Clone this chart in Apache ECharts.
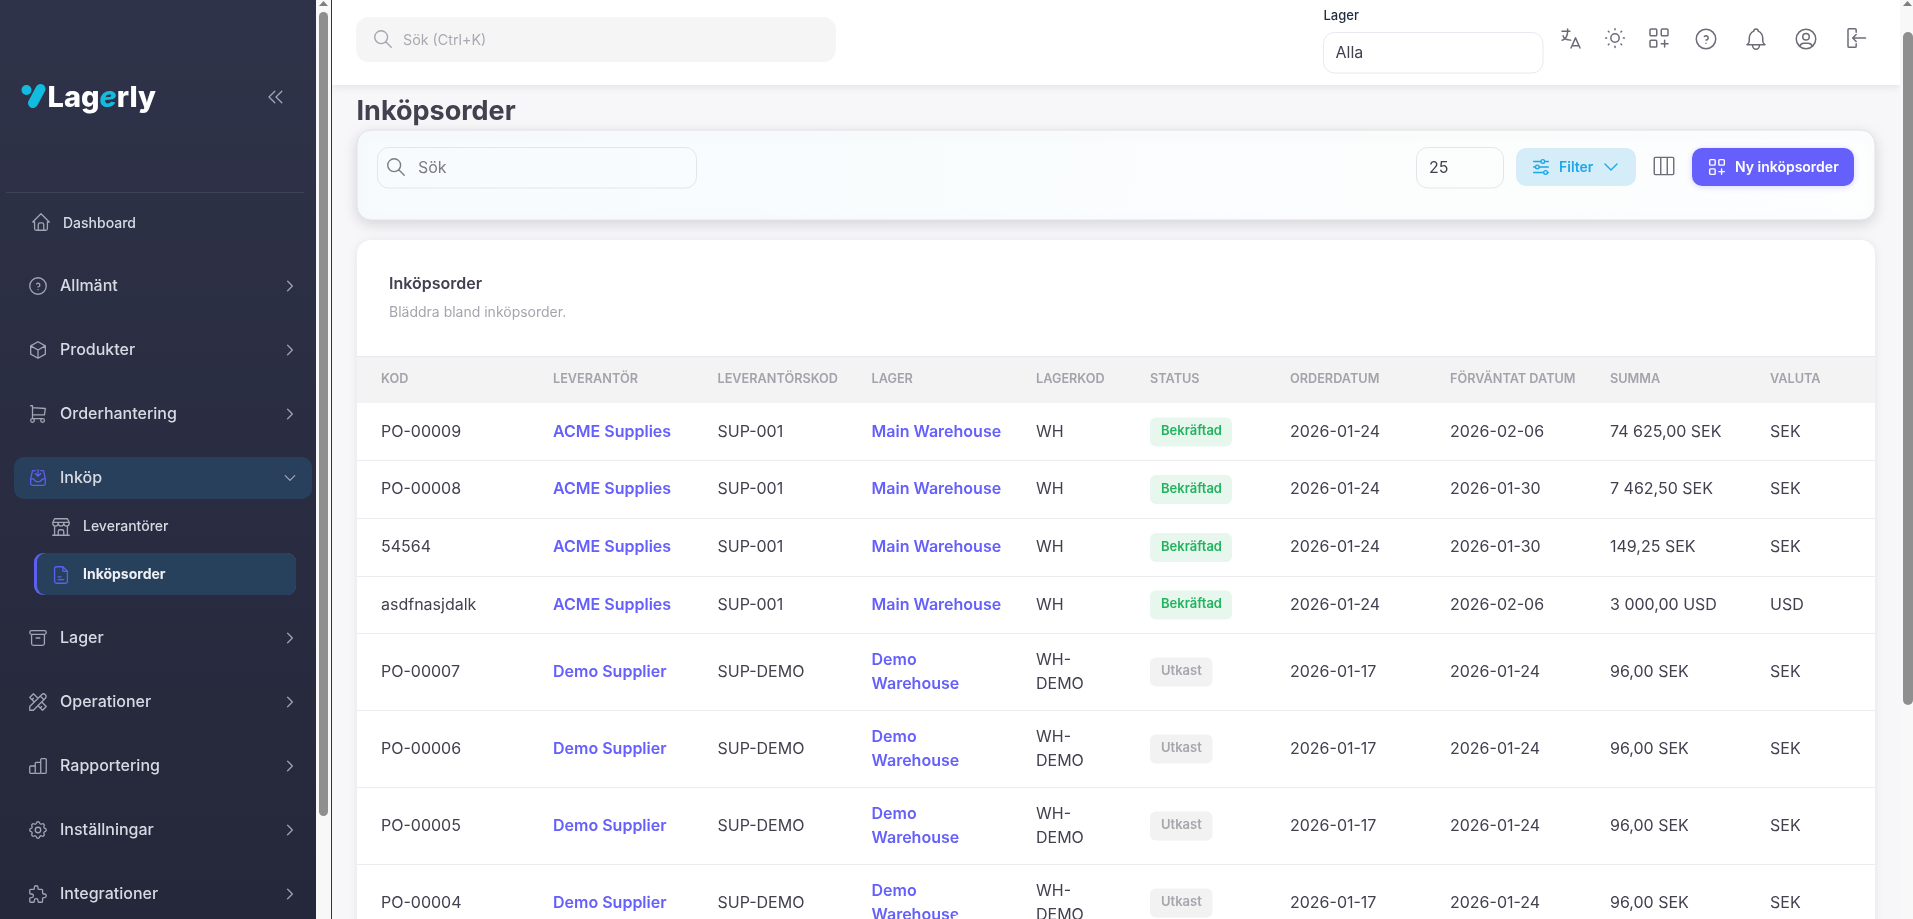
<!DOCTYPE html>
<html>
<head>
<meta charset="utf-8">
<title>Inköpsorder</title>
<script src="https://cdn.jsdelivr.net/npm/echarts@6/dist/echarts.min.js"></script>
<style>
html, body { margin: 0; padding: 0; overflow: hidden; background: #f7f7f9; }
#chart { width: 1913px; height: 919px; }
</style>
</head>
<body>
<div id="chart"></div>
<script>
// table data
var headers = ["KOD", "LEVERANTÖR", "LEVERANTÖRSKOD", "LAGER", "LAGERKOD", "STATUS", "ORDERDATUM", "FÖRVÄNTAT DATUM", "SUMMA", "VALUTA"];
var codes = ["PO-00009", "PO-00008", "54564", "asdfnasjdalk", "PO-00007", "PO-00006", "PO-00005", "PO-00004"];
var suppliers = ["ACME Supplies", "ACME Supplies", "ACME Supplies", "ACME Supplies", "Demo Supplier", "Demo Supplier", "Demo Supplier", "Demo Supplier"];
var supplierCodes = ["SUP-001", "SUP-001", "SUP-001", "SUP-001", "SUP-DEMO", "SUP-DEMO", "SUP-DEMO", "SUP-DEMO"];
var warehouses = ["Main Warehouse", "Main Warehouse", "Main Warehouse", "Main Warehouse", "Demo\nWarehouse", "Demo\nWarehouse", "Demo\nWarehouse", "Demo\nWarehouse"];
var warehouseCodes = ["WH", "WH", "WH", "WH", "WH-\nDEMO", "WH-\nDEMO", "WH-\nDEMO", "WH-\nDEMO"];
var statuses = ["Bekräftad", "Bekräftad", "Bekräftad", "Bekräftad", "Utkast", "Utkast", "Utkast", "Utkast"];
var orderDates = ["2026-01-24", "2026-01-24", "2026-01-24", "2026-01-24", "2026-01-17", "2026-01-17", "2026-01-17", "2026-01-17"];
var expectedDates = ["2026-02-06", "2026-01-30", "2026-01-30", "2026-02-06", "2026-01-24", "2026-01-24", "2026-01-24", "2026-01-24"];
var totals = ["74 625,00 SEK", "7 462,50 SEK", "149,25 SEK", "3 000,00 USD", "96,00 SEK", "96,00 SEK", "96,00 SEK", "96,00 SEK"];
var currencies = ["SEK", "SEK", "SEK", "USD", "SEK", "SEK", "SEK", "SEK"];

// sidebar menu
var menuLabels = ["Allmänt", "Produkter", "Orderhantering", "Inköp", "Lager", "Operationer", "Rapportering", "Inställningar", "Integrationer"];
var menuIcons = ["help", "box", "cart", "inbox", "archive", "tools", "bars", "settings", "puzzle"];

// layout
var colX = [381, 553, 717.5, 871.5, 1036, 1150, 1290, 1450, 1610, 1770];
var rowEdges = [403, 460, 518, 576, 633, 710, 787, 864, 941];
var menuY = [286, 350, 414, 478, 638, 702, 766, 830, 894];
var font = "Inter, 'Noto Sans', sans-serif";

var paths = {
    home: "M5 12l-2 0l9 -9l9 9l-2 0M5 12v7a2 2 0 0 0 2 2h10a2 2 0 0 0 2 -2v-7M9 21v-6a2 2 0 0 1 2 -2h2a2 2 0 0 1 2 2v6",
    help: "M12 12m-9 0a9 9 0 1 0 18 0a9 9 0 1 0 -18 0M12 16v.01M12 13a2 2 0 0 0 .914 -3.782a1.98 1.98 0 0 0 -2.414 .483",
    box: "M12 3l8 4.5l0 9l-8 4.5l-8 -4.5l0 -9l8 -4.5M12 12l8 -4.5M12 12l0 9M12 12l-8 -4.5",
    cart: "M6 19m-2 0a2 2 0 1 0 4 0a2 2 0 1 0 -4 0M17 19m-2 0a2 2 0 1 0 4 0a2 2 0 1 0 -4 0M17 17h-11v-14h-2M6 5l14 1l-1 7h-13",
    inbox: "M4 13h3l3 3h4l3 -3h3M4 13l2 -9h3M20 13l-2 -9h-3M12 3v7M9 7l3 3l3 -3M4 13v5a2 2 0 0 0 2 2h12a2 2 0 0 0 2 -2v-5",
    store: "M3 21l18 0M3 7v1a3 3 0 0 0 6 0v-1m0 1a3 3 0 0 0 6 0v-1m0 1a3 3 0 0 0 6 0v-1h-18l2 -4h14l2 4M5 21l0 -10.15M19 21l0 -10.15M9 21v-4a2 2 0 0 1 2 -2h2a2 2 0 0 1 2 2v4",
    file: "M14 3v4a1 1 0 0 0 1 1h4M17 21h-10a2 2 0 0 1 -2 -2v-14a2 2 0 0 1 2 -2h7l5 5v11a2 2 0 0 1 -2 2M9 17h6M9 14h3",
    archive: "M3 4m0 2a2 2 0 0 1 2 -2h14a2 2 0 0 1 2 2v0a2 2 0 0 1 -2 2h-14a2 2 0 0 1 -2 -2zM5 8v10a2 2 0 0 0 2 2h10a2 2 0 0 0 2 -2v-10M10 12l4 0",
    tools: "M3 21h4l13 -13a1.5 1.5 0 0 0 -4 -4l-13 13v4M14.5 5.5l4 4M12 8l-5 -5l-4 4l5 5M7 8l-1.5 1.5M16 12l5 5l-4 4l-5 -5M16 17l-1.5 1.5",
    bars: "M3 12m0 1a1 1 0 0 1 1 -1h4a1 1 0 0 1 1 1v6a1 1 0 0 1 -1 1h-4a1 1 0 0 1 -1 -1zM9 8m0 1a1 1 0 0 1 1 -1h4a1 1 0 0 1 1 1v10a1 1 0 0 1 -1 1h-4a1 1 0 0 1 -1 -1zM15 4m0 1a1 1 0 0 1 1 -1h4a1 1 0 0 1 1 1v14a1 1 0 0 1 -1 1h-4a1 1 0 0 1 -1 -1z",
    settings: "M10.325 4.317c.426 -1.756 2.924 -1.756 3.35 0a1.724 1.724 0 0 0 2.573 1.066c1.543 -.94 3.31 .826 2.37 2.37a1.724 1.724 0 0 0 1.065 2.572c1.756 .426 1.756 2.924 0 3.35a1.724 1.724 0 0 0 -1.066 2.573c.94 1.543 -.826 3.31 -2.37 2.37a1.724 1.724 0 0 0 -2.572 1.065c-.426 1.756 -2.924 1.756 -3.35 0a1.724 1.724 0 0 0 -2.573 -1.066c-1.543 .94 -3.31 -.826 -2.37 -2.37a1.724 1.724 0 0 0 -1.065 -2.572c-1.756 -.426 -1.756 -2.924 0 -3.35a1.724 1.724 0 0 0 1.066 -2.573c-.94 -1.543 .826 -3.31 2.37 -2.37c1 .608 2.296 .07 2.572 -1.065zM9 12a3 3 0 1 0 6 0a3 3 0 0 0 -6 0",
    puzzle: "M4 7h3a1 1 0 0 0 1 -1v-1a2 2 0 0 1 4 0v1a1 1 0 0 0 1 1h3a1 1 0 0 1 1 1v3a1 1 0 0 0 1 1h1a2 2 0 0 1 0 4h-1a1 1 0 0 0 -1 1v3a1 1 0 0 1 -1 1h-3a1 1 0 0 1 -1 -1v-1a2 2 0 0 0 -4 0v1a1 1 0 0 1 -1 1h-3a1 1 0 0 1 -1 -1v-3a1 1 0 0 1 1 -1h1a2 2 0 0 0 0 -4h-1a1 1 0 0 1 -1 -1v-3a1 1 0 0 1 1 -1",
    chevronsLeft: "M11 7l-5 5l5 5M17 7l-5 5l5 5",
    chevronRight: "M9 6l6 6l-6 6",
    chevronDown: "M6 9l6 6l6 -6",
    search: "M10 10m-7 0a7 7 0 1 0 14 0a7 7 0 1 0 -14 0M21 21l-6 -6",
    language: "M4 5h7M9 3v2c0 4.418 -2.239 8 -5 8M5 9c0 2.144 2.952 3.908 6.7 4M12 20l4 -9l4 9M19.1 18h-6.2",
    sun: "M12 12m-4 0a4 4 0 1 0 8 0a4 4 0 1 0 -8 0M3 12h1m8 -9v1m8 8h1m-9 8v1m-6.4 -15.4l.7 .7m12.1 -.7l-.7 .7m0 11.4l.7 .7m-12.1 -.7l-.7 .7",
    apps: "M4 4m0 1a1 1 0 0 1 1 -1h4a1 1 0 0 1 1 1v4a1 1 0 0 1 -1 1h-4a1 1 0 0 1 -1 -1zM14 4m0 1a1 1 0 0 1 1 -1h4a1 1 0 0 1 1 1v4a1 1 0 0 1 -1 1h-4a1 1 0 0 1 -1 -1zM4 14m0 1a1 1 0 0 1 1 -1h4a1 1 0 0 1 1 1v4a1 1 0 0 1 -1 1h-4a1 1 0 0 1 -1 -1zM14 17h6M17 14v6",
    bell: "M10 5a2 2 0 1 1 4 0a7 7 0 0 1 4 6v3a4 4 0 0 0 2 3h-16a4 4 0 0 0 2 -3v-3a7 7 0 0 1 4 -6M9 17v1a3 3 0 0 0 6 0v-1",
    user: "M12 12m-9 0a9 9 0 1 0 18 0a9 9 0 1 0 -18 0M12 10m-3 0a3 3 0 1 0 6 0a3 3 0 1 0 -6 0M6.168 18.849a4 4 0 0 1 3.832 -2.849h4a4 4 0 0 1 3.834 2.855",
    login: "M13 7v-2a1 1 0 0 0 -1 -1h-5a1 1 0 0 0 -1 1v14a1 1 0 0 0 1 1h5a1 1 0 0 0 1 -1v-2M21 12h-11M13 9l-3 3l3 3",
    sliders: "M14 6m-2 0a2 2 0 1 0 4 0a2 2 0 1 0 -4 0M4 6l8 0M16 6l4 0M8 12m-2 0a2 2 0 1 0 4 0a2 2 0 1 0 -4 0M4 12l2 0M10 12l10 0M17 18m-2 0a2 2 0 1 0 4 0a2 2 0 1 0 -4 0M4 18l11 0M19 18l1 0",
    columns: "M3 5a1 1 0 0 1 1 -1h16a1 1 0 0 1 1 1v14a1 1 0 0 1 -1 1h-16a1 1 0 0 1 -1 -1zM9 4v16M15 4v16"
};

var els = [], icons = [];

function rect(x, y, w, h, fill, r, extra) {
    var style = { fill: fill };
    for (var k in (extra || {})) style[k] = extra[k];
    els.push({ type: "rect", shape: { x: x, y: y, width: w, height: h, r: r || 0 }, style: style, silent: true });
}

function text(x, y, str, size, weight, color, lineHeight) {
    els.push({
        type: "text", silent: true, x: x, y: y,
        style: {
            text: str, fill: color, fontFamily: font, fontSize: size, fontWeight: weight,
            align: "left", verticalAlign: "middle", lineHeight: lineHeight || undefined
        }
    });
}

function icon(name, cx, cy, size, color, lw) {
    icons.push({ name: name, cx: cx, cy: cy, size: size, color: color, lw: lw || 1.4 });
}

var sideIcon = "#a3a5b4", sideText = "#d8dae3";

// page and top bar
rect(332, 85, 1568, 834, "#f7f7f9");
rect(332, 0, 1568, 85, "#ffffff", 0, { shadowBlur: 8, shadowColor: "rgba(47,43,61,0.10)", shadowOffsetY: 2 });
rect(356, 17, 480, 45, "#f5f5f6", 13);
icon("search", 383, 39, 22, "#a5a6ae");
text(403, 40.5, "Sök (Ctrl+K)", 14.3, 400, "#a8a9b3");
text(1323.5, 16, "Lager", 13, 500, "#1f2d3d");
rect(1323.5, 32.5, 219.5, 40.5, "#ffffff", 11, { stroke: "#e8e8f0", lineWidth: 1 });
text(1335.5, 53, "Alla", 16, 400, "#444050");
var topIcons = ["language", "sun", "apps", "help", "bell", "user", "login"];
var topIconX = [1571, 1615, 1659, 1706, 1756, 1806, 1855];
var topIconY = [39, 38, 38, 39, 39, 39, 38];
var topIconSize = [27, 25, 27, 26, 27, 26, 28];
topIcons.forEach(function(n, i) {
    icon(n, topIconX[i], topIconY[i], topIconSize[i], "#6d6b77", 1.5);
});

// sidebar
rect(0, 0, 316, 919, { type: "linear", x: 0, y: 0, x2: 0, y2: 1, colorStops: [{ offset: 0, color: "#2f3349" }, { offset: 1, color: "#25273a" }] });
rect(316, 0, 15, 919, "#f8f8f8");
rect(319, 12, 9, 804, "#8f8f8f", 4.5);
els.push({ type: "polygon", silent: true, shape: { points: [[323.5, 1], [319, 6], [328, 6]] }, style: { fill: "#7f7f7f" } });
rect(331, 0, 1, 919, "#2f3349");
rect(1900, 0, 13, 919, "#f8f8f8");
rect(1903, 32, 10, 673, "#8f8f8f", 5);
els.push({ type: "polygon", silent: true, shape: { points: [[1907.5, 1], [1903, 6], [1912, 6]] }, style: { fill: "#7f7f7f" } });
rect(6, 192, 298, 1, "rgba(255,255,255,0.09)");

// logo
els.push({ type: "circle", silent: true, shape: { cx: 26.5, cy: 90, r: 5 }, style: { fill: "#12bcdf" } });
els.push({ type: "line", silent: true, shape: { x1: 40.5, y1: 89, x2: 33, y2: 103 }, style: { stroke: "#12bcdf", lineWidth: 10, lineCap: "round" } });
els.push({
    type: "text", silent: true, x: 47.5, y: 98,
    style: {
        text: "{a|Lag}{b|e}{a|rly}", verticalAlign: "middle", align: "left",
        rich: {
            a: { fill: "#ffffff", fontFamily: font, fontSize: 29, fontWeight: 800 },
            b: { fill: "#12bcdf", fontFamily: font, fontSize: 29, fontWeight: 800, fontStyle: "italic" }
        }
    }
});
icon("chevronsLeft", 276, 97, 28, sideIcon, 1.3);

icon("home", 41, 222, 22, sideIcon, 1.3);
text(63, 224, "Dashboard", 14, 500, sideText);

rect(14, 457, 298, 42, "#28405c", 10);
rect(34, 553, 262, 42, "#5d5fef", 9);
rect(37, 553, 259, 42, "#27405c", 9);
menuLabels.forEach(function(label, i) {
    var active = label === "Inköp";
    icon(menuIcons[i], 38, menuY[i], 22, active ? "#5d5fef" : sideIcon, 1.3);
    text(60, menuY[i] + 0.5, label, 16, 500, sideText);
    icon(active ? "chevronDown" : "chevronRight", 290, menuY[i], 19, sideIcon, 1.2);
});
icon("store", 61, 527, 22, sideIcon, 1.3);
text(83, 527, "Leverantörer", 14, 500, sideText);
icon("file", 61, 575, 22, "#5d5fef", 1.3);
text(83, 575, "Inköpsorder", 14, 700, "#eef0f6");

// heading and filter card
text(356.5, 112, "Inköpsorder", 27, 700, "#444050");
rect(357, 130, 1518, 90, { type: "linear", x: 0, y: 0, x2: 1, y2: 1, colorStops: [{ offset: 0, color: "#f7fbfd" }, { offset: 1, color: "#fdfefe" }] }, 14,
    { stroke: "#e2e2e6", lineWidth: 1, shadowBlur: 14, shadowColor: "rgba(47,43,61,0.16)", shadowOffsetY: 4 });
rect(377.5, 147.5, 319, 40.5, "rgba(255,255,255,0)", 11, { stroke: "#e3e5ea", lineWidth: 1 });
icon("search", 396, 167, 22, "#7a7b85");
text(418, 168, "Sök", 16, 400, "#7a7b85");
rect(1416.5, 147.5, 87, 40.5, "rgba(255,255,255,0)", 11, { stroke: "#e3e5ea", lineWidth: 1 });
text(1429, 168, "25", 16, 400, "#444050");
rect(1516, 148, 120, 38, "#d5ecf9", 10);
icon("sliders", 1541, 167, 22, "#1ea7e8");
text(1559, 167.5, "Filter", 14, 600, "#1ea7e8");
icon("chevronDown", 1611, 167, 24, "#1ea7e8");
icon("columns", 1664, 166, 26, "#6d6b77");
rect(1692, 148, 162, 38, "#6560fb", 10, { shadowBlur: 6, shadowColor: "rgba(101,96,251,0.25)", shadowOffsetY: 1 });
icon("apps", 1717, 167, 22, "#ffffff");
text(1735, 167.5, "Ny inköpsorder", 14, 600, "#ffffff");

// table card
rect(357, 240, 1518, 760, "#ffffff", 14, { shadowBlur: 8, shadowColor: "rgba(47,43,61,0.10)", shadowOffsetY: 1 });
text(389, 284.5, "Inköpsorder", 16, 600, "#444050");
text(389, 313, "Bläddra bland inköpsorder.", 14, 400, "#a5a5ae");
rect(357, 357, 1518, 46, "#f3f3f4");
rect(357, 356, 1518, 1, "#e8e8ee");
headers.forEach(function(h, i) {
    text(colX[i], 379, h, 12.7, 600, "#a3a3ab");
});
var columns = [codes, suppliers, supplierCodes, warehouses, warehouseCodes, null, orderDates, expectedDates, totals, currencies];
var linkCols = { 1: true, 3: true };
codes.forEach(function(c, r) {
    var top = rowEdges[r], bottom = rowEdges[r + 1], mid = (top + bottom) / 2 + 0.5;
    rect(357, bottom, 1518, 1, "#ebebf0");
    columns.forEach(function(col, c2) {
        if (!col) return;
        text(colX[c2], mid, col[r], 16, linkCols[c2] ? 600 : 400, linkCols[c2] ? "#6560fb" : "#444050", 23.5);
    });
    var ok = statuses[r] === "Bekräftad";
    rect(colX[5], mid - 14.5, ok ? 82 : 62.5, 29, ok ? "#e8f7ee" : "#f2f2f3", 6);
    text(colX[5] + 11, mid - 0.5, statuses[r], 13, 600, ok ? "#22b35e" : "#a6a6ad");
});
// white corner that sits over the last row at the window edge
rect(950, 913, 76, 30, "#ffffff", 14);

var chart = echarts.init(document.getElementById("chart"), null, { width: 1913, height: 919 });
chart.setOption({
    animation: false,
    backgroundColor: "#f7f7f9",
    graphic: { elements: els },
    series: [{
        type: "custom",
        coordinateSystem: "none",
        silent: true,
        clip: false,
        data: icons.map(function(d, i) { return [i]; }),
        renderItem: function(params) {
            var d = icons[params.dataIndex];
            return {
                type: "path",
                shape: {
                    // corner moves pin the path box to the 24 unit viewBox
                    pathData: "M0 0h0M24 24h0" + paths[d.name],
                    x: d.cx - d.size / 2, y: d.cy - d.size / 2, width: d.size, height: d.size, layout: "cover"
                },
                style: { fill: "none", stroke: d.color, lineWidth: d.lw, lineCap: "round", lineJoin: "round" }
            };
        }
    }]
});
</script>
</body>
</html>
